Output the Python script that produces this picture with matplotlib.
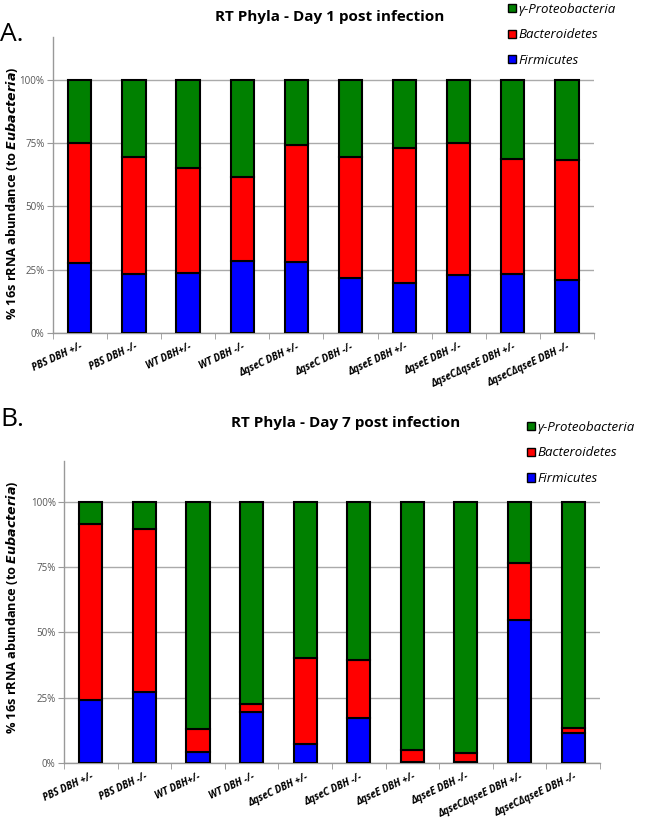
import numpy as np
import matplotlib
matplotlib.use('Agg')
import matplotlib.pyplot as plt
from matplotlib.patches import Patch

plt.rcParams['font.family'] = ['Open Sans', 'DejaVu Sans']

# muestras (mismas para ambos paneles)
samples = ['PBS DBH +/-', 'PBS DBH -/-', 'WT DBH+/-', 'WT DBH -/-',
           'ΔqseC DBH +/-', 'ΔqseC DBH -/-', 'ΔqseE DBH +/-', 'ΔqseE DBH -/-',
           'ΔqseCΔqseE DBH +/-', 'ΔqseCΔqseE DBH -/-']

# Dia 1 (%)
d1_firm = [27.8, 23.2, 23.8, 28.3, 28.2, 21.6, 19.9, 22.9, 23.2, 20.9]
d1_bact = [47.2, 46.5, 41.3, 33.2, 46.2, 47.8, 53.3, 52.2, 45.6, 47.6]
d1_prot = [25.0, 30.3, 34.9, 38.5, 25.6, 30.6, 26.8, 24.9, 31.2, 31.5]

# Dia 7 (%)
d7_firm = [24.1, 27.3, 4.3, 19.7, 7.2, 17.4, 0.3, 0.3, 54.8, 11.6]
d7_bact = [67.5, 62.2, 8.7, 2.9, 32.9, 21.9, 4.8, 3.4, 21.7, 1.9]
d7_prot = [8.4, 10.5, 87.0, 77.4, 59.9, 60.7, 94.9, 96.3, 23.5, 86.5]

phyla = ['Firmicutes', 'Bacteroidetes', 'γ-Proteobacteria']
colores = ['#0000FF', '#FF0000', '#008000']


def panel(ax, firm, bact, prot, ytop):
    x = np.arange(len(samples))
    bottom = np.zeros(len(samples))
    for vals, c in zip([firm, bact, prot], colores):
        v = np.array(vals) / 100.0
        ax.bar(x, v, 0.43, bottom=bottom, color=c, edgecolor='black',
               linewidth=1.5, zorder=3)
        bottom += v
    ax.set_xlim(-0.5, len(samples) - 0.5)
    ax.set_ylim(0, ytop)
    ax.set_yticks([0, 0.25, 0.5, 0.75, 1.0])
    ax.set_yticklabels(['0%', '25%', '50%', '75%', '100%'], color='#555555',
                       fontsize=7)
    ax.yaxis.grid(True, color='#aaaaaa', linewidth=1, zorder=0)
    ax.set_xticks(x)
    ax.set_xticklabels(samples, rotation=25, ha='right',
                       rotation_mode='anchor', fontsize=7,
                       fontweight='bold', fontstyle='italic')
    ax.set_xticks(np.arange(-0.5, len(samples)), minor=True)
    ax.tick_params(axis='x', which='major', length=0, pad=6)
    ax.tick_params(axis='x', which='minor', length=4, color='#999999')
    ax.tick_params(axis='y', length=4, color='#999999', pad=2)
    for s in ['top', 'right']:
        ax.spines[s].set_visible(False)
    for s in ['left', 'bottom']:
        ax.spines[s].set_color('#999999')
        ax.spines[s].set_linewidth(1)


fig = plt.figure(figsize=(6.6, 8.23), dpi=100)

axA = fig.add_axes([0.080, 0.5954, 0.820, 0.3597])
panel(axA, d1_firm, d1_bact, d1_prot, 1.17)
axB = fig.add_axes([0.097, 0.0729, 0.812, 0.367])
panel(axB, d7_firm, d7_bact, d7_prot, 1.157)

fig.text(0.5, 0.988, 'RT Phyla - Day 1 post infection', ha='center', va='top',
         fontsize=11, fontweight='bold')
fig.text(0.523, 0.495, 'RT Phyla - Day 7 post infection', ha='center', va='top',
         fontsize=11, fontweight='bold')
fig.text(0.0, 0.958, 'A.', fontsize=19, va='center')
fig.text(0.0, 0.49, 'B.', fontsize=19, va='center')

ylab = r'% 16s rRNA abundance (to $\mathbfit{Eubacteria}$)'
fig.text(0.018, 0.765, ylab, rotation=90, ha='center', va='center',
         fontsize=9.2, fontweight='bold')
fig.text(0.018, 0.262, ylab, rotation=90, ha='center', va='center',
         fontsize=9.2, fontweight='bold')

handles = [Patch(facecolor=c, edgecolor='black', linewidth=1) for c in colores[::-1]]
labels = phyla[::-1]
for xa, ya in [(0.762, 1.003), (0.790, 0.495)]:
    fig.legend(handles, labels, loc='upper left', bbox_to_anchor=(xa, ya),
               frameon=False, handlelength=0.6, handleheight=0.6,
               handletextpad=0.2, labelspacing=0.95, borderaxespad=0,
               prop={'size': 9.5, 'style': 'italic'})

fig.savefig('out.png', dpi=100)
